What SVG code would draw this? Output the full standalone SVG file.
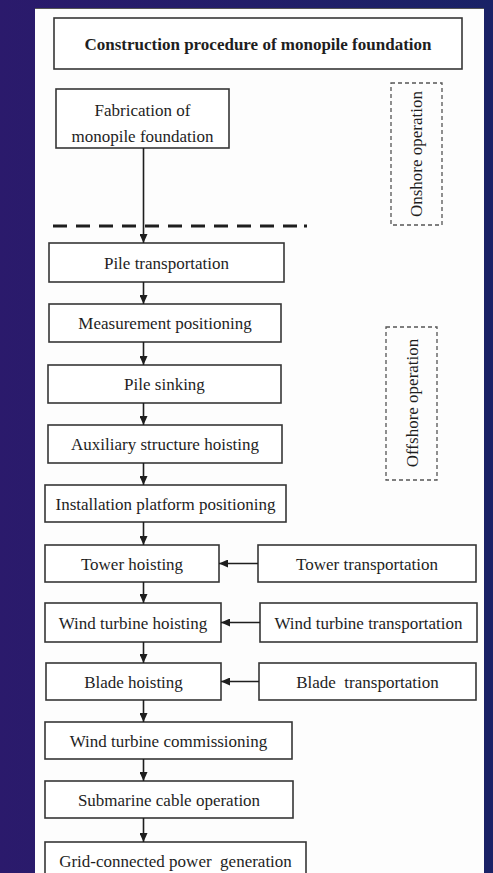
<svg xmlns="http://www.w3.org/2000/svg" width="493" height="873" viewBox="0 0 493 873">
  <defs>
    <linearGradient id="bg" x1="0" y1="0" x2="1" y2="0">
      <stop offset="0" stop-color="#2b1a6c"/>
      <stop offset="1" stop-color="#1a2266"/>
    </linearGradient>
    <marker id="arrow" markerUnits="userSpaceOnUse" markerWidth="9" markerHeight="8" refX="9" refY="4" orient="auto">
      <path d="M0,0 L9,4 L0,8 z" fill="#1e1e1e"/>
    </marker>
  </defs>
  <style>
    .box { fill: #ffffff; stroke: #363636; stroke-width: 1.6; }
    .zone { fill: none; stroke: #555; stroke-width: 1.3; stroke-dasharray: 4 3; }
    .lbl { font-family: "Liberation Serif", "Times New Roman", serif; font-size: 17px; fill: #1e1e1e; text-anchor: middle; }
    .bold { font-weight: bold; }
    .link { stroke: #1e1e1e; stroke-width: 1.6; fill: none; marker-end: url(#arrow); }
  </style>

  <!-- backdrop and page -->
  <rect x="0" y="0" width="493" height="873" fill="url(#bg)"/>
  <rect x="35" y="8" width="449" height="870" fill="#fdfdfd"/>
  <line x1="35" y1="8.5" x2="484" y2="8.5" stroke="#555" stroke-width="1"/>

  <g id="title">
    <rect class="box" x="54" y="18" width="408" height="51"/>
    <text class="lbl bold" x="258" y="49.5">Construction procedure of monopile foundation</text>
  </g>

  <g id="fabrication">
    <rect class="box" x="56" y="89" width="173" height="59"/>
    <text class="lbl" x="142.5" y="116">Fabrication of</text>
    <text class="lbl" x="142.5" y="142">monopile foundation</text>
  </g>

  <!-- onshore / offshore divider -->
  <g id="divider">
    <line x1="53" y1="226" x2="300" y2="226" stroke="#1e1e1e" stroke-width="3" stroke-dasharray="14 9"/>
    <rect x="304" y="224.5" width="3" height="3" fill="#1e1e1e"/>
  </g>

  <g id="onshore">
    <rect class="zone" x="391" y="83" width="51" height="142"/>
    <text class="lbl" transform="translate(422,154) rotate(-90)" x="0" y="0">Onshore operation</text>
  </g>

  <g id="offshore">
    <rect class="zone" x="386" y="327" width="51" height="153"/>
    <text class="lbl" transform="translate(417.5,403) rotate(-90)" x="0" y="0">Offshore operation</text>
  </g>

  <g id="pile-transportation">
    <rect class="box" x="49" y="243" width="235" height="39"/>
    <text class="lbl" x="166.5" y="268.5">Pile transportation</text>
  </g>
  <g id="measurement-positioning">
    <rect class="box" x="49" y="304" width="232" height="38"/>
    <text class="lbl" x="165" y="329">Measurement positioning</text>
  </g>
  <g id="pile-sinking">
    <rect class="box" x="48" y="365" width="233" height="38"/>
    <text class="lbl" x="164.5" y="390">Pile sinking</text>
  </g>
  <g id="auxiliary-hoisting">
    <rect class="box" x="48" y="425" width="234" height="38"/>
    <text class="lbl" x="165" y="450">Auxiliary structure hoisting</text>
  </g>
  <g id="platform-positioning">
    <rect class="box" x="45" y="485" width="241" height="37"/>
    <text class="lbl" x="165.5" y="509.5">Installation platform positioning</text>
  </g>
  <g id="tower-hoisting">
    <rect class="box" x="45" y="545" width="174" height="37"/>
    <text class="lbl" x="132" y="569.5">Tower hoisting</text>
  </g>
  <g id="tower-transportation">
    <rect class="box" x="258" y="545" width="218" height="37"/>
    <text class="lbl" x="367" y="569.5">Tower transportation</text>
  </g>
  <g id="turbine-hoisting">
    <rect class="box" x="45" y="603" width="176" height="39"/>
    <text class="lbl" x="133" y="628.5">Wind turbine hoisting</text>
  </g>
  <g id="turbine-transportation">
    <rect class="box" x="260" y="603" width="217" height="39"/>
    <text class="lbl" x="368.5" y="628.5">Wind turbine transportation</text>
  </g>
  <g id="blade-hoisting">
    <rect class="box" x="46" y="663" width="175" height="37"/>
    <text class="lbl" x="133.5" y="687.5">Blade hoisting</text>
  </g>
  <g id="blade-transportation">
    <rect class="box" x="259" y="663" width="217" height="37"/>
    <text class="lbl" x="367.5" y="687.5" xml:space="preserve">Blade  transportation</text>
  </g>
  <g id="turbine-commissioning">
    <rect class="box" x="45" y="722" width="247" height="37"/>
    <text class="lbl" x="168.5" y="746.5">Wind turbine commissioning</text>
  </g>
  <g id="submarine-cable">
    <rect class="box" x="45" y="781" width="248" height="37"/>
    <text class="lbl" x="169" y="805.5">Submarine cable operation</text>
  </g>
  <g id="grid-connection">
    <rect class="box" x="45" y="842" width="261" height="45"/>
    <text class="lbl" x="175.5" y="867" xml:space="preserve">Grid-connected power  generation</text>
  </g>

  <!-- connectors -->
  <g id="connectors">
    <line class="link" x1="143.5" y1="148" x2="143.5" y2="243"/>
    <line class="link" x1="143.5" y1="282" x2="143.5" y2="304"/>
    <line class="link" x1="143.5" y1="342" x2="143.5" y2="365"/>
    <line class="link" x1="143.5" y1="403" x2="143.5" y2="425"/>
    <line class="link" x1="143.5" y1="463" x2="143.5" y2="485"/>
    <line class="link" x1="143.5" y1="522" x2="143.5" y2="545"/>
    <line class="link" x1="143.5" y1="582" x2="143.5" y2="603"/>
    <line class="link" x1="143.5" y1="642" x2="143.5" y2="663"/>
    <line class="link" x1="143.5" y1="700" x2="143.5" y2="722"/>
    <line class="link" x1="143.5" y1="759" x2="143.5" y2="781"/>
    <line class="link" x1="143.5" y1="818" x2="143.5" y2="842"/>
    <line class="link" x1="258" y1="563.5" x2="219" y2="563.5"/>
    <line class="link" x1="260" y1="622.5" x2="221" y2="622.5"/>
    <line class="link" x1="259" y1="681.5" x2="221" y2="681.5"/>
  </g>
</svg>
